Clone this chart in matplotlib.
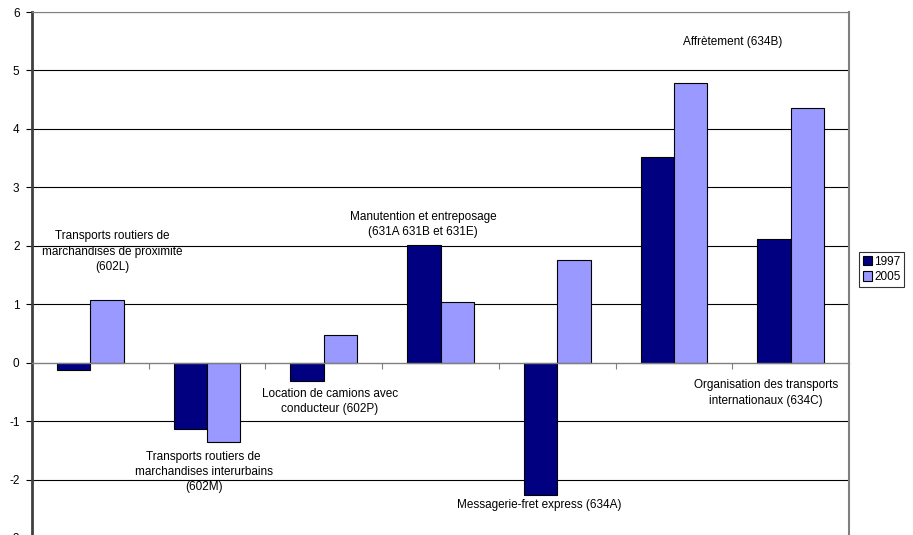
#!/usr/bin/env python3
"""Bar chart: evolution 1997 / 2005 by transport activity."""

import numpy as np
import matplotlib
matplotlib.use("Agg")
import matplotlib.pyplot as plt

plt.rcParams["font.family"] = ["Liberation Sans", "DejaVu Sans"]
plt.rcParams["axes.unicode_minus"] = False

CATEGORIES = ["602L", "602M", "602P", "631ABE", "634A", "634B", "634C"]
VALUES_1997 = [-0.12, -1.14, -0.31, 2.01, -2.27, 3.52, 2.11]
VALUES_2005 = [1.08, -1.35, 0.48, 1.03, 1.76, 4.78, 4.35]
SERIES = ["1997", "2005"]
COLORS = ["#000080", "#9999FF"]

LABELS = [
    ("Transports routiers de\nmarchandises de proximité\n(602L)", 0.19, 1.90),
    ("Transports routiers de\nmarchandises interurbains\n(602M)", 0.97, -1.87),
    ("Location de camions avec\nconducteur (602P)", 2.05, -0.66),
    ("Manutention et entreposage\n(631A 631B et 631E)", 2.85, 2.36),
    ("Messagerie-fret express (634A)", 3.85, -2.44),
    ("Affrètement (634B)", 5.50, 5.49),
    ("Organisation des transports\ninternationaux (634C)", 5.79, -0.52),
]

W, H = 913, 535
fig = plt.figure(figsize=(W / 100, H / 100), dpi=100)
left, right, top, bottom = 32, 849, 12, 538
ax = fig.add_axes([left / W, 1 - bottom / H, (right - left) / W, (bottom - top) / H])

x = np.arange(len(CATEGORIES))
bw = 0.286
ax.bar(x - bw / 2, VALUES_1997, bw, color=COLORS[0], edgecolor="black",
       linewidth=0.8, label=SERIES[0], zorder=3)
ax.bar(x + bw / 2, VALUES_2005, bw, color=COLORS[1], edgecolor="black",
       linewidth=0.8, label=SERIES[1], zorder=3)

ax.set_xlim(-0.5, len(CATEGORIES) - 0.5)
ax.set_ylim(-3, 6)
ax.set_yticks(range(-3, 7))
ax.tick_params(axis="y", labelsize=8.5, length=4, width=0.8, pad=5)

for yv in range(-3, 7):
    if yv != 0:
        ax.axhline(yv, color="black", linewidth=0.8, zorder=1)

# category axis drawn at zero with ticks on group boundaries
ax.spines["bottom"].set_position(("data", 0))
ax.spines["bottom"].set_color("#808080")
ax.spines["bottom"].set_linewidth(1.0)
ax.spines["bottom"].set_zorder(4)
ax.set_xticks(np.arange(0.5, len(CATEGORIES) - 0.5, 1.0))
ax.set_xticklabels([])
ax.tick_params(axis="x", length=4, width=0.8, colors="#808080", direction="out")
ax.spines["left"].set_color("#404040")
ax.spines["left"].set_linewidth(2.0)
ax.spines["top"].set_color("#808080")
ax.spines["right"].set_color("#808080")
ax.spines["right"].set_linewidth(1.5)

for text, tx, ty in LABELS:
    ax.text(tx, ty, text, ha="center", va="center", fontsize=8.5,
            linespacing=1.35, zorder=5)

leg = fig.legend(loc="upper left", bbox_to_anchor=(859 / W, 1 - 252 / H),
                 fontsize=8.5, frameon=True, fancybox=False, edgecolor="black",
                 handlelength=0.8, handleheight=0.9, handletextpad=0.2,
                 borderpad=0.3, labelspacing=0.3, borderaxespad=0)
leg.get_frame().set_linewidth(0.8)

fig.savefig("out.png", dpi=100)
